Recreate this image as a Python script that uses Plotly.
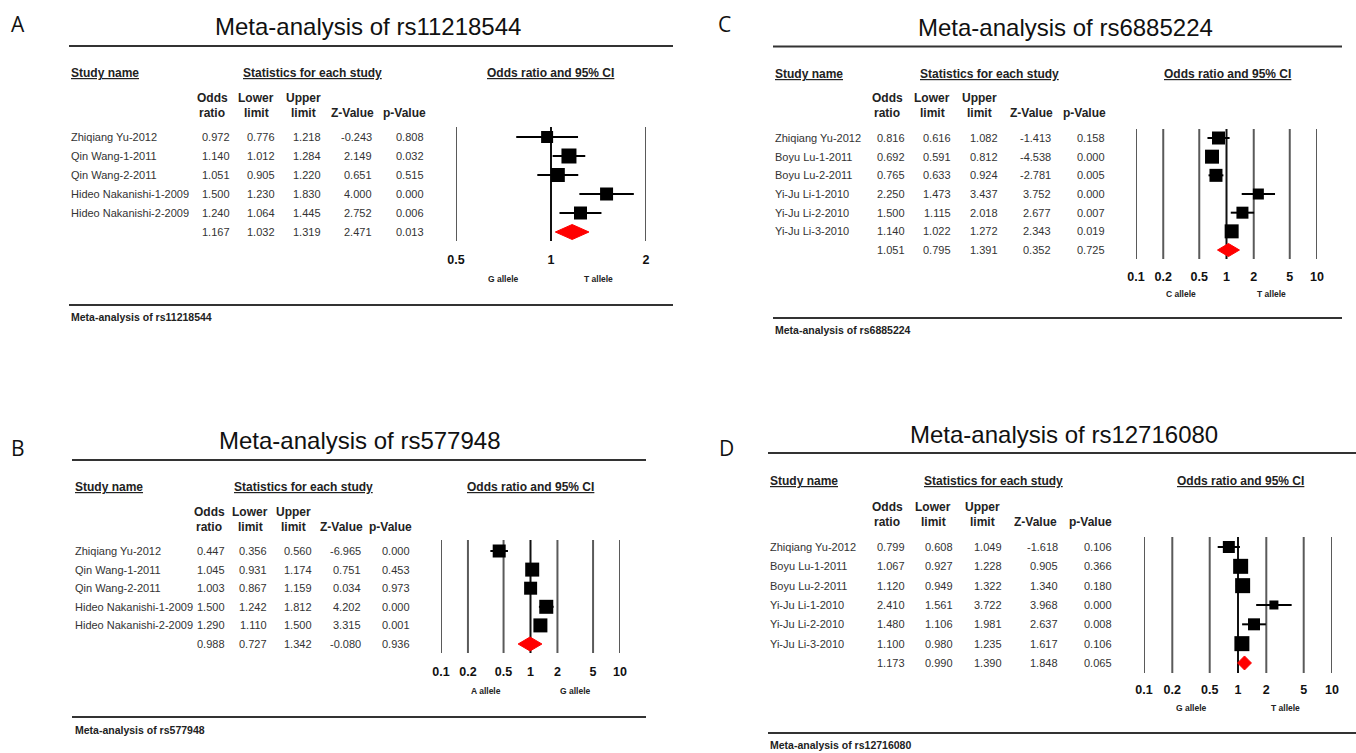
import math
import plotly.graph_objects as go

W, H = 1356, 753
FONT = "Liberation Sans, Arial, sans-serif"

# ---------------- data ----------------
A_snp = "rs11218544"
A_studies = ["Zhiqiang Yu-2012", "Qin Wang-1-2011", "Qin Wang-2-2011",
             "Hideo Nakanishi-1-2009", "Hideo Nakanishi-2-2009"]
A_or = [0.972, 1.140, 1.051, 1.500, 1.240]
A_lower = [0.776, 1.012, 0.905, 1.230, 1.064]
A_upper = [1.218, 1.284, 1.220, 1.830, 1.445]
A_z = [-0.243, 2.149, 0.651, 4.000, 2.752]
A_p = [0.808, 0.032, 0.515, 0.000, 0.006]
A_pooled = [1.167, 1.032, 1.319, 2.471, 0.013]  # OR, lower, upper, Z, p
A_ticks = [0.5, 1, 2]
A_tick_labels = ["0.5", "1", "2"]
A_alleles = ["G allele", "T allele"]

B_snp = "rs577948"
B_studies = ["Zhiqiang Yu-2012", "Qin Wang-1-2011", "Qin Wang-2-2011",
             "Hideo Nakanishi-1-2009", "Hideo Nakanishi-2-2009"]
B_or = [0.447, 1.045, 1.003, 1.500, 1.290]
B_lower = [0.356, 0.931, 0.867, 1.242, 1.110]
B_upper = [0.560, 1.174, 1.159, 1.812, 1.500]
B_z = [-6.965, 0.751, 0.034, 4.202, 3.315]
B_p = [0.000, 0.453, 0.973, 0.000, 0.001]
B_pooled = [0.988, 0.727, 1.342, -0.080, 0.936]
B_ticks = [0.1, 0.2, 0.5, 1, 2, 5, 10]
B_tick_labels = ["0.1", "0.2", "0.5", "1", "2", "5", "10"]
B_alleles = ["A allele", "G allele"]

C_snp = "rs6885224"
C_studies = ["Zhiqiang Yu-2012", "Boyu Lu-1-2011", "Boyu Lu-2-2011",
             "Yi-Ju Li-1-2010", "Yi-Ju Li-2-2010", "Yi-Ju Li-3-2010"]
C_or = [0.816, 0.692, 0.765, 2.250, 1.500, 1.140]
C_lower = [0.616, 0.591, 0.633, 1.473, 1.115, 1.022]
C_upper = [1.082, 0.812, 0.924, 3.437, 2.018, 1.272]
C_z = [-1.413, -4.538, -2.781, 3.752, 2.677, 2.343]
C_p = [0.158, 0.000, 0.005, 0.000, 0.007, 0.019]
C_pooled = [1.051, 0.795, 1.391, 0.352, 0.725]
C_ticks = [0.1, 0.2, 0.5, 1, 2, 5, 10]
C_tick_labels = ["0.1", "0.2", "0.5", "1", "2", "5", "10"]
C_alleles = ["C allele", "T allele"]

D_snp = "rs12716080"
D_studies = ["Zhiqiang Yu-2012", "Boyu Lu-1-2011", "Boyu Lu-2-2011",
             "Yi-Ju Li-1-2010", "Yi-Ju Li-2-2010", "Yi-Ju Li-3-2010"]
D_or = [0.799, 1.067, 1.120, 2.410, 1.480, 1.100]
D_lower = [0.608, 0.927, 0.949, 1.561, 1.106, 0.980]
D_upper = [1.049, 1.228, 1.322, 3.722, 1.981, 1.235]
D_z = [-1.618, 0.905, 1.340, 3.968, 2.637, 1.617]
D_p = [0.106, 0.366, 0.180, 0.000, 0.008, 0.106]
D_pooled = [1.173, 0.990, 1.390, 1.848, 0.065]
D_ticks = [0.1, 0.2, 0.5, 1, 2, 5, 10]
D_tick_labels = ["0.1", "0.2", "0.5", "1", "2", "5", "10"]
D_alleles = ["G allele", "T allele"]

# ---------------- layout geometry (pixels) & styles ----------------
panels = [
    dict(letter="A", snp=A_snp, studies=A_studies, orr=A_or, lo=A_lower, hi=A_upper, z=A_z, p=A_p,
         pooled=A_pooled, ticks=A_ticks, tlabels=A_tick_labels, alleles=A_alleles,
         letter_xy=(18, 24), title_x=213, title_y=27,
         line_x=(69, 673), top_y=46, bot_y=305, foot_y=317,
         name_x=69, head_y=73, stats_cx=312, ci_cx=550,
         hdr_cx=[212, 256, 303, 352, 404], hdr_y=(98, 113),
         col_rx=[232, 277, 323, 374, 426],
         row0=137, drow=19, fx=(456, 646), fy=(127, 241), ticklen=7, allele_y=279,
         box=[12, 15, 14, 13, 13], dia_h=7.5),
    dict(letter="B", snp=B_snp, studies=B_studies, orr=B_or, lo=B_lower, hi=B_upper, z=B_z, p=B_p,
         pooled=B_pooled, ticks=B_ticks, tlabels=B_tick_labels, alleles=B_alleles,
         letter_xy=(18, 448), title_x=217, title_y=440,
         line_x=(72, 646), top_y=460, bot_y=717, foot_y=730,
         name_x=73, head_y=487, stats_cx=303, ci_cx=530,
         hdr_cx=[209, 250, 293, 341, 390], hdr_y=(512, 527),
         col_rx=[227, 269, 314, 363, 412],
         row0=551, drow=18.6, fx=(441, 620), fy=(540, 653), ticklen=7, allele_y=691,
         box=[13, 14, 13, 14, 14], dia_h=7),
    dict(letter="C", snp=C_snp, studies=C_studies, orr=C_or, lo=C_lower, hi=C_upper, z=C_z, p=C_p,
         pooled=C_pooled, ticks=C_ticks, tlabels=C_tick_labels, alleles=C_alleles,
         letter_xy=(724, 24), title_x=916, title_y=28,
         line_x=(773, 1342), top_y=46.5, bot_y=318, foot_y=330,
         name_x=773, head_y=74, stats_cx=989, ci_cx=1227,
         hdr_cx=[887, 932, 979, 1031, 1084], hdr_y=(98, 113),
         col_rx=[907, 953, 1000, 1053, 1107],
         row0=138, drow=18.67, fx=(1136, 1317), fy=(129, 259), ticklen=6, allele_y=294,
         box=[13, 14, 13, 11, 12, 14], dia_h=6.5),
    dict(letter="D", snp=D_snp, studies=D_studies, orr=D_or, lo=D_lower, hi=D_upper, z=D_z, p=D_p,
         pooled=D_pooled, ticks=D_ticks, tlabels=D_tick_labels, alleles=D_alleles,
         letter_xy=(726, 448), title_x=908, title_y=434,
         line_x=(768, 1356), top_y=453, bot_y=733, foot_y=745,
         name_x=768, head_y=481, stats_cx=993, ci_cx=1240,
         hdr_cx=[887, 933, 982, 1035, 1090], hdr_y=(507, 522),
         col_rx=[907, 955, 1004, 1060, 1114],
         row0=547, drow=19.33, fx=(1144, 1332), fy=(537, 673), ticklen=5, allele_y=708,
         box=[12, 15, 15, 9, 12, 15], dia_h=7),
]


def xp(px):
    return px / W


def yp(py):
    return 1 - py / H


fig = go.Figure()
annotations = []
shapes = []
layout_axes = {}

for k, P in enumerate(panels):
    n = k + 1
    xname = "x" if n == 1 else f"x{n}"
    yname = "y" if n == 1 else f"y{n}"
    xkey = "xaxis" if n == 1 else f"xaxis{n}"
    ykey = "yaxis" if n == 1 else f"yaxis{n}"

    # y axis: row index mapping
    r_top = (P["fy"][0] - P["row0"]) / P["drow"]
    r_bot = (P["fy"][1] - P["row0"]) / P["drow"]
    layout_axes[ykey] = dict(domain=[yp(P["fy"][1]), yp(P["fy"][0])], range=[r_bot, r_top],
                             visible=False, anchor=xname, fixedrange=True, automargin=False)
    layout_axes[xkey] = dict(
        type="log", domain=[xp(P["fx"][0]), xp(P["fx"][1])],
        range=[math.log10(P["ticks"][0]), math.log10(P["ticks"][-1])],
        tickvals=P["ticks"], ticktext=[f"<b>{t}</b>" for t in P["tlabels"]],
        tickfont=dict(family=FONT, size=12.5, color="#111"),
        ticks="outside", ticklen=P["ticklen"], tickcolor="rgba(0,0,0,0)",
        showgrid=False, zeroline=False, showline=False, anchor=yname, fixedrange=True,
        automargin=False)

    # vertical reference lines at ticks
    for t in P["ticks"]:
        shapes.append(dict(type="line", xref=xname, yref=f"{yname} domain", x0=t, x1=t, y0=0, y1=1,
                           line=dict(color="#111" if t == 1 else "#5a5a5a", width=2), layer="below"))

    nstud = len(P["studies"])
    rows = list(range(nstud))
    # CI whiskers
    cx, cy = [], []
    for i in rows:
        cx += [P["lo"][i], P["hi"][i], None]
        cy += [i, i, None]
    fig.add_trace(go.Scatter(x=cx, y=cy, mode="lines", line=dict(color="black", width=2),
                             xaxis=xname, yaxis=yname, hoverinfo="skip", showlegend=False))
    # squares
    fig.add_trace(go.Scatter(x=P["orr"], y=rows, mode="markers",
                             marker=dict(symbol="square", size=P["box"], color="black", opacity=1,
                                         line=dict(width=0)),
                             xaxis=xname, yaxis=yname, showlegend=False))
    # pooled diamond
    por, plo, phi = P["pooled"][0], P["pooled"][1], P["pooled"][2]
    r = nstud
    h = P["dia_h"] / P["drow"]
    fig.add_trace(go.Scatter(x=[plo, por, phi, por, plo], y=[r, r - h, r, r + h, r], mode="lines",
                             fill="toself", fillcolor="#ff0000", line=dict(color="#ff0000", width=1),
                             xaxis=xname, yaxis=yname, showlegend=False, hoverinfo="skip"))

    # table rows
    tfont = dict(family=FONT, size=11, color="#333")
    for i in rows:
        annotations.append(dict(text=P["studies"][i], xref="paper", x=xp(P["name_x"]), yref=yname, y=i,
                                xanchor="left", yanchor="middle", showarrow=False, font=tfont))
        vals = [P["orr"][i], P["lo"][i], P["hi"][i], P["z"][i], P["p"][i]]
        for v, rx in zip(vals, P["col_rx"]):
            annotations.append(dict(text=f"{v:.3f}", xref="paper", x=xp(rx), yref=yname, y=i,
                                    xanchor="right", yanchor="middle", showarrow=False, font=tfont))
    for v, rx in zip(P["pooled"], P["col_rx"]):
        annotations.append(dict(text=f"{v:.3f}", xref="paper", x=xp(rx), yref=yname, y=nstud,
                                xanchor="right", yanchor="middle", showarrow=False, font=tfont))

    # headers
    hfont = dict(family=FONT, size=12, color="#222")
    annotations.append(dict(text="<b><u>Study name</u></b>", xref="paper", yref="paper",
                            x=xp(P["name_x"]), y=yp(P["head_y"]), xanchor="left", yanchor="middle",
                            showarrow=False, font=hfont))
    annotations.append(dict(text="<b><u>Statistics for each study</u></b>", xref="paper", yref="paper",
                            x=xp(P["stats_cx"]), y=yp(P["head_y"]), xanchor="center", yanchor="middle",
                            showarrow=False, font=hfont))
    annotations.append(dict(text="<b><u>Odds ratio and 95% CI</u></b>", xref="paper", yref="paper",
                            x=xp(P["ci_cx"]), y=yp(P["head_y"]), xanchor="center", yanchor="middle",
                            showarrow=False, font=hfont))
    hdr1 = ["Odds", "Lower", "Upper", "", ""]
    hdr2 = ["ratio", "limit", "limit", "Z-Value", "p-Value"]
    for t1, t2, cxp in zip(hdr1, hdr2, P["hdr_cx"]):
        if t1:
            annotations.append(dict(text=f"<b>{t1}</b>", xref="paper", yref="paper", x=xp(cxp),
                                    y=yp(P["hdr_y"][0]), xanchor="center", yanchor="middle",
                                    showarrow=False, font=hfont))
        annotations.append(dict(text=f"<b>{t2}</b>", xref="paper", yref="paper", x=xp(cxp),
                                y=yp(P["hdr_y"][1]), xanchor="center", yanchor="middle",
                                showarrow=False, font=hfont))

    # allele labels
    for a, fx in zip(P["alleles"], [0.25, 0.75]):
        annotations.append(dict(text=f"<b>{a}</b>", xref=f"{xname} domain", x=fx, yref="paper",
                                y=yp(P["allele_y"]), xanchor="center", yanchor="middle", showarrow=False,
                                font=dict(family=FONT, size=8.5, color="#222")))

    # title, letter, footer
    annotations.append(dict(text=f"Meta-analysis of {P['snp']}", xref="paper", yref="paper",
                            x=xp(P["title_x"]), y=yp(P["title_y"]), xanchor="left", yanchor="middle",
                            showarrow=False, font=dict(family=FONT, size=24, color="#111")))
    annotations.append(dict(text=P["letter"], xref="paper", yref="paper",
                            x=xp(P["letter_xy"][0]), y=yp(P["letter_xy"][1]), xanchor="center",
                            yanchor="middle", showarrow=False,
                            font=dict(family="Open Sans, DejaVu Sans, sans-serif", size=21, color="#111")))
    annotations.append(dict(text=f"<b>Meta-analysis of {P['snp']}</b>", xref="paper", yref="paper",
                            x=xp(P["name_x"]), y=yp(P["foot_y"]), xanchor="left", yanchor="middle",
                            showarrow=False, font=dict(family=FONT, size=10.5, color="#222")))

    # horizontal rules
    for yy in (P["top_y"], P["bot_y"]):
        shapes.append(dict(type="line", xref="paper", yref="paper", x0=xp(P["line_x"][0]),
                           x1=xp(P["line_x"][1]), y0=yp(yy), y1=yp(yy),
                           line=dict(color="#333", width=2)))

fig.update_layout(width=W, height=H,
                  margin=dict(l=0, r=0, t=0, b=0, pad=0, autoexpand=False),
                  paper_bgcolor="white", plot_bgcolor="white", showlegend=False,
                  annotations=annotations, shapes=shapes, **layout_axes)

fig.write_html("out.html",
               post_script="document.body.style.margin='0';document.body.style.overflow='hidden';")
